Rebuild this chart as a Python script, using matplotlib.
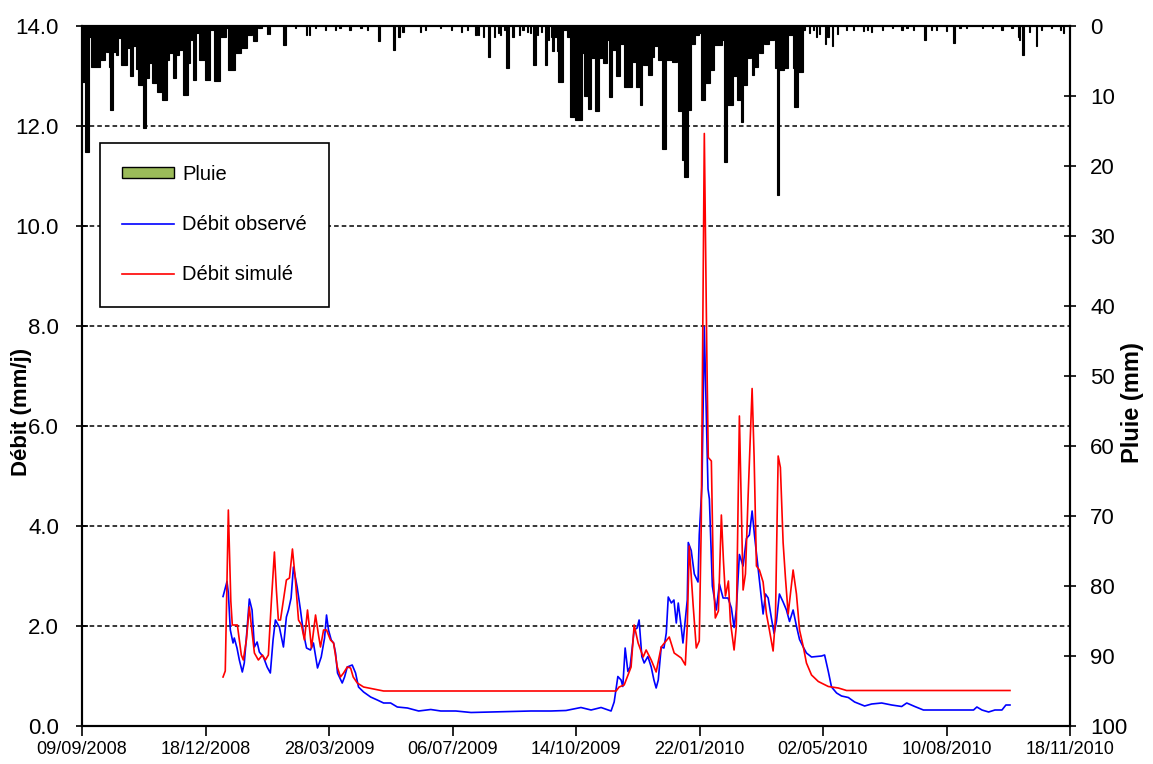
import numpy as np
import pandas as pd
import matplotlib
matplotlib.use('Agg')
import matplotlib.pyplot as plt
from matplotlib.patches import Patch
from matplotlib.lines import Line2D

plt.rcParams['font.family'] = ['Liberation Sans', 'DejaVu Sans']

# origine des jours : 09/09/2008
origine = pd.Timestamp('2008-09-09')

# pluie journaliere (mm) - hiver 2008/2009, a partir du jour 0
pluie_hiver1 = [
    8, 8, 8, 18, 18, 18, 1.5, 1.5, 5.8, 5.8,
    5.8, 5.8, 5.8, 5.8, 5.8, 4.9, 4.9, 4.9, 4.9, 0.3,
    3.7, 3.7, 5.8, 12, 12, 12, 3.7, 3.7, 4.1, 4.1,
    1.7, 1.7, 5.6, 5.6, 5.6, 5.6, 5.6, 3.2, 3.2, 7.2,
    7.2, 7.2, 2.9, 2.9, 6.1, 6.1, 8.4, 8.4, 8.4, 8.4,
    14.6, 14.6, 7.4, 7.4, 7.4, 5.3, 5.3, 8.2, 8.2, 8.2,
    8.2, 9.4, 9.4, 9.4, 9.4, 10.6, 10.6, 10.6, 10.6, 4.9,
    4.9, 3.9, 3.9, 3.9, 7.4, 7.4, 7.4, 4.1, 4.1, 3.4,
    3.4, 3.4, 9.9, 9.9, 9.9, 9.9, 5.3, 5.3, 2.0, 2.0,
    7.7, 7.7, 7.7, 1.0, 1.0, 4.9, 4.9, 4.9, 4.9, 4.9,
    7.7, 7.7, 7.7, 7.7, 0.6, 0.6, 0.6, 7.9, 7.9, 7.9,
    7.9, 7.9, 1.5, 1.5, 1.5, 1.5, 1.5, 0.3, 0.3, 6.3,
    6.3, 6.3, 6.3, 6.3, 3.9, 3.9, 3.9, 3.9, 3.9, 3.2,
    3.2, 3.2, 3.2, 3.2, 1.3, 1.3, 1.3, 1.3, 0, 2.2,
    2.2, 2.2, 0, 0.3, 0.3, 0.3]
debut_hiver1 = 0

# pluie journaliere (mm) - hiver 2009/2010, a partir du jour 385
pluie_hiver2 = [
    3.5, 8, 8, 8, 8, 0.5, 0.5, 0.5, 1.5, 1.5,
    1.5, 13, 13, 13, 13, 13.4, 13.4, 13.4, 13.4, 13.4,
    3.9, 3.9, 10, 10, 10, 11.8, 11.8, 11.8, 4.6, 4.6,
    4.6, 12.2, 12.2, 12.2, 4.6, 4.6, 4.6, 5.3, 5.3, 5.3,
    5.3, 2, 10.1, 10.1, 10.1, 3.4, 3.4, 3.4, 7.2, 7.2,
    7.2, 2.5, 2.5, 2.5, 8.7, 8.7, 8.7, 8.7, 8.7, 8.7,
    8.7, 5.1, 5.1, 5.1, 8.7, 8.7, 8.7, 11.3, 11.3, 3,
    5.6, 5.6, 5.6, 5.6, 7.0, 7.0, 7.0, 4.4, 4.4, 2.9,
    2.9, 2.9, 4.9, 4.9, 4.9, 17.5, 17.5, 17.5, 4.9, 4.9,
    4.9, 4.9, 4.9, 5.1, 5.1, 5.1, 5.1, 3, 12.2, 12.2,
    12.2, 19.1, 19.1, 21.5, 21.5, 21.5, 12, 12, 12, 2.5,
    2.5, 2.5, 1.3, 1.3, 1.3, 1, 1, 10.6, 10.6, 10.6,
    8.2, 8.2, 8.2, 8.2, 6.3, 6.3, 6.3, 2.7, 2.7, 2.7,
    2.7, 2.7, 2.7, 2.7, 2, 19.4, 19.4, 19.4, 11.3, 11.3,
    11.3, 11.3, 11.3, 7.2, 7.2, 7.2, 10.6, 10.6, 10.6, 13.7,
    13.7, 8.4, 8.4, 8.4, 4.6, 4.6, 4.6, 2, 7.0, 7.0,
    5.8, 5.8, 5.8, 2, 3.9, 3.9, 3.9, 1, 2.5, 2.5,
    2.5, 2.5, 2.0, 2.0, 2.0, 2.0, 1, 6, 24.1, 24.1,
    6.3, 6.3, 6.3, 6.3, 6, 6, 6, 1.3, 1.3, 1.3,
    1.3, 6, 11.5, 11.5, 11.5, 6.5, 6.5, 6.5, 6.5, 0.5, 0.5]
debut_hiver2 = 385

# pluies isolees (jour, mm)
pluie_isolee_jours = [150, 152, 163, 164, 165, 173, 182, 184, 189, 197, 205, 209, 217, 226, 231,
                      240, 241, 252, 253, 256, 257, 260, 274, 278, 290, 299, 307, 312, 319, 321,
                      325, 329, 330, 334, 337, 339, 342, 344, 345, 349, 354, 357, 361, 363, 366,
                      367, 369, 372, 375, 376, 378, 380, 381, 382, 383, 384,
                      589, 592, 595, 597, 602, 604, 608, 612, 619, 625, 633, 636, 639, 648, 656,
                      664, 668, 673, 682, 683, 688, 692, 700, 706, 711, 716, 729, 737, 745, 753,
                      758, 759, 762, 767, 773, 777, 785, 792, 795]
pluie_isolee_mm = [1.1, 1.1, 2.7, 2.7, 2.7, 0.3, 1.3, 1.3, 0.3, 0.5, 0.5, 0.3, 0.5, 0.3, 0.5,
                   2.2, 2.2, 3.4, 3.4, 1.5, 1.5, 0.8, 0.8, 0.5, 0.3, 0.5, 0.8, 0.5, 1.3, 1.3,
                   1.5, 4.4, 4.4, 1.5, 1.0, 1.3, 0.5, 6.0, 6.0, 1.5, 1.3, 0.5, 0.8, 1.0, 5.6,
                   5.6, 1.3, 0.8, 5.6, 5.6, 2.0, 1.5, 3.5, 3.5, 1.5, 1.5,
                   1.0, 0.5, 1.5, 1.2, 2.6, 1.5, 2.8, 1.2, 0.5, 0.5, 0.7, 0.5, 0.8, 0.5, 0.3,
                   0.5, 0.3, 0.5, 2.0, 2.0, 0.5, 0.5, 0.7, 2.4, 0.3, 0.3, 0.3, 0.3, 0.5, 0.3,
                   1.5, 2.0, 4.2, 0.8, 2.8, 0.5, 0.3, 0.5, 1.0]

# debit observe (jour, mm/j)
obs_jours = [114.2, 117.4, 118.5, 120.1, 122.3, 123.3, 125.5, 127.4, 129.8, 131.4, 133.6, 135.5,
             137.7, 139.6, 141.8, 143.6, 146.9, 149.9, 152.5, 154.7, 156.6, 159.8, 163.1, 165.5,
             167.2, 169.3, 171.2, 174.2, 176.9, 179.3, 181.8, 185.0, 187.4, 190.7, 193.7, 196.4,
             198.0, 199.6, 201.8, 203.7, 205.3, 206.9, 210.7, 212.6, 214.8, 218.8, 221.5, 223.9,
             228.0, 233.7, 239.1, 244.2, 249.9, 255.3, 263.5, 272.6, 282.4, 290.5, 302.7, 315.0,
             331.0, 347.0, 363.5, 379.7, 391.9, 404.0, 412.2, 420.3, 428.4, 430.9, 433.9, 436.5,
             437.9, 439.8, 442.0, 443.8, 447.1, 449.5, 451.1, 453.3, 455.2, 458.2, 460.9, 463.1,
             464.9, 466.6, 469.0, 471.2, 473.1, 474.7, 477.2, 479.3, 481.2, 482.8, 485.2, 486.6,
             488.5, 490.1, 490.9, 493.3, 495.8, 498.8, 499.8, 502.0, 503.9, 506.9, 508.0, 510.4,
             513.6, 516.1, 519.1, 523.1, 525.8, 528.0, 529.8, 532.3, 535.3, 538.0, 540.4, 542.6,
             544.5, 546.9, 550.1, 551.5, 553.4, 555.6, 558.2, 560.4, 562.3, 564.7, 567.7, 570.4,
             572.9, 575.8, 578.5, 581.0, 584.0, 586.6, 590.7, 598.8, 601.3, 604.3, 606.9, 611.0,
             615.0, 620.5, 625.6, 633.7, 639.4, 647.5, 655.6, 663.7, 667.8, 674.3, 681.3, 701.6,
             721.9, 724.6, 728.7, 734.1, 739.2, 744.9, 748.1, 751.4]
obs_debit = [2.59, 2.89, 2.66, 1.92, 1.66, 1.76, 1.56, 1.32, 1.08, 1.26, 1.92, 2.54,
             2.32, 1.58, 1.68, 1.48, 1.38, 1.18, 1.06, 1.72, 2.12, 1.98, 1.58, 2.18,
             2.32, 2.56, 3.18, 2.78, 2.32, 1.86, 1.56, 1.52, 1.66, 1.16, 1.38, 1.76,
             2.22, 1.92, 1.72, 1.66, 1.46, 1.06, 0.86, 0.98, 1.18, 1.22, 1.06, 0.78,
             0.68, 0.58, 0.52, 0.46, 0.46, 0.38, 0.36, 0.30, 0.33, 0.30, 0.30, 0.27,
             0.28, 0.29, 0.30, 0.30, 0.31, 0.37, 0.32, 0.37, 0.30, 0.48, 0.99, 0.92,
             0.79, 1.56, 1.09, 1.18, 1.92, 1.96, 2.12, 1.39, 1.26, 1.39, 1.18, 0.92,
             0.76, 0.92, 1.58, 1.56, 1.86, 2.58, 2.46, 2.52, 2.06, 2.46, 1.98, 1.66,
             2.12, 2.52, 3.67, 3.51, 3.04, 2.88, 3.82, 4.82, 7.98, 4.74, 4.54, 2.80,
             2.32, 2.84, 2.56, 2.56, 2.36, 1.97, 2.32, 3.43, 3.20, 3.75, 3.82, 4.30,
             3.82, 3.28, 2.56, 2.24, 2.64, 2.56, 2.16, 1.85, 2.09, 2.64, 2.48, 2.32,
             2.09, 2.32, 2.00, 1.73, 1.58, 1.46, 1.38, 1.40, 1.42, 1.09, 0.78, 0.66,
             0.60, 0.57, 0.48, 0.40, 0.44, 0.46, 0.42, 0.39, 0.46, 0.39, 0.32, 0.32,
             0.32, 0.38, 0.32, 0.28, 0.32, 0.32, 0.42, 0.42]

# debit simule (jour, mm/j)
sim_jours = [114.2, 116.0, 118.5, 120.5, 121.7, 125.8, 127.4, 129.0, 130.6, 133.1, 135.5, 137.5,
             139.6, 142.8, 146.1, 148.5, 150.9, 153.4, 155.8, 157.4, 159.0, 160.7, 163.1, 165.5,
             168.0, 170.4, 172.8, 175.3, 177.7, 180.1, 182.6, 184.2, 185.8, 189.1, 191.5, 193.1,
             195.6, 198.0, 201.2, 203.7, 206.7, 209.3, 211.8, 214.8, 217.5, 219.6, 222.9, 228.0,
             236.1, 244.2, 432.5, 434.9, 439.0, 444.6, 447.1, 450.3, 454.4, 456.8, 460.9, 464.9,
             469.0, 475.5, 479.5, 485.2, 488.5, 490.1, 491.7, 493.3, 494.9, 497.4, 499.8, 501.4,
             503.9, 505.9, 507.1, 509.6, 511.2, 512.8, 515.3, 517.7, 519.4, 521.0, 523.4, 525.0,
             528.0, 529.8, 532.3, 535.3, 537.2, 539.4, 542.6, 544.2, 546.1, 548.5, 551.5, 554.2,
             556.6, 559.6, 561.5, 563.7, 565.5, 567.7, 569.6, 571.8, 575.8, 578.5, 581.0, 584.0,
             586.6, 590.7, 596.2, 604.3, 612.4, 619.1, 751.4]
sim_debit = [0.98, 1.10, 4.32, 2.50, 2.02, 2.02, 1.72, 1.42, 1.32, 1.72, 2.38, 1.92,
             1.46, 1.32, 1.42, 1.32, 1.42, 2.52, 3.48, 2.72, 2.12, 2.12, 2.52, 2.92,
             2.96, 3.54, 2.92, 2.12, 2.02, 1.72, 2.32, 1.96, 1.56, 2.22, 1.82, 1.58,
             1.92, 1.92, 1.72, 1.66, 1.18, 0.98, 1.06, 1.18, 1.16, 0.98, 0.86, 0.78,
             0.74, 0.70, 0.70, 0.78, 0.82, 1.18, 2.02, 1.66, 1.38, 1.52, 1.32, 1.08,
             1.58, 1.78, 1.46, 1.36, 1.22, 2.00, 3.60, 3.00, 2.40, 1.56, 1.70, 4.00,
             11.85, 7.50, 5.37, 5.30, 3.00, 2.16, 2.30, 4.22, 3.30, 2.60, 2.90, 2.09,
             1.52, 1.99, 6.20, 2.72, 3.04, 4.62, 6.75, 5.40, 3.20, 3.12, 2.88, 2.24,
             1.92, 1.50, 2.16, 5.40, 5.17, 3.67, 2.96, 2.24, 3.12, 2.64, 1.92, 1.59,
             1.26, 1.02, 0.89, 0.79, 0.76, 0.71, 0.71]

graduations_dates = ['09/09/2008', '18/12/2008', '28/03/2009', '06/07/2009', '14/10/2009',
                     '22/01/2010', '02/05/2010', '10/08/2010', '18/11/2010']


def en_dates(jours):
    return origine + pd.to_timedelta(np.asarray(jours, dtype=float), unit='D')


# construction des series de pluie
jours_pluie = list(range(debut_hiver1, debut_hiver1 + len(pluie_hiver1))) \
    + list(range(debut_hiver2, debut_hiver2 + len(pluie_hiver2))) + pluie_isolee_jours
mm_pluie = pluie_hiver1 + pluie_hiver2 + pluie_isolee_mm

fig = plt.figure(figsize=(11.53, 7.64), dpi=100)
ax1 = fig.add_axes([82 / 1153, 38 / 764, 988 / 1153, 700 / 764])
ax2 = ax1.twinx()

# debits
ax1.plot(en_dates(obs_jours), obs_debit, color='#0000ff', lw=1.2, zorder=3)
ax1.plot(en_dates(sim_jours), sim_debit, color='#ff0000', lw=1.2, zorder=4)

# pluie (axe inverse)
ax2.bar(en_dates(jours_pluie), mm_pluie, width=1.0, color='black', linewidth=0.8,
        edgecolor='black', align='center')

ax1.set_ylim(0, 14)
ax2.set_ylim(100, 0)
xdates = pd.to_datetime(graduations_dates, format='%d/%m/%Y')
ax1.set_xlim(xdates[0], xdates[-1])
ax1.set_xticks(xdates)
ax1.set_xticklabels(graduations_dates, fontsize=13)
ax1.set_yticks(np.arange(0, 14.1, 2))
ax1.set_yticklabels(['%.1f' % v for v in np.arange(0, 14.1, 2)], fontsize=16)
ax2.set_yticks(np.arange(0, 101, 10))
ax2.set_yticklabels([str(v) for v in range(0, 101, 10)], fontsize=16)

ax1.tick_params(axis='x', direction='out', length=7, width=1.2, pad=4)
ax1.tick_params(axis='y', direction='inout', length=9, width=1.2, pad=12)
ax2.tick_params(axis='y', direction='inout', length=9, width=1.2, pad=10)

for v in np.arange(2, 13, 2):
    ax1.axhline(v, color='black', lw=1.1, ls=(0, (3, 2)), zorder=1)

for ax in (ax1, ax2):
    for s in ax.spines.values():
        s.set_linewidth(1.5)
        s.set_color('black')

# le titre de gauche chevauche les graduations, comme dans l'original
fig.text(22 / 1153, 1 - 412 / 764, 'Débit (mm/j)', rotation=90, ha='center', va='center',
         fontsize=16, fontweight='bold')
fig.text(1133 / 1153, 1 - 403 / 764, 'Pluie (mm)', rotation=90, ha='center', va='center',
         fontsize=17, fontweight='bold')

handles = [Patch(facecolor='#9bbb59', edgecolor='black', lw=1.0),
           Line2D([], [], color='#0000ff', lw=1.2),
           Line2D([], [], color='#ff0000', lw=1.2)]
leg = ax2.legend(handles, ['Pluie', 'Débit observé', 'Débit simulé'], loc='upper left',
                 bbox_to_anchor=(0.018, 0.833), borderaxespad=0, fontsize=14.5,
                 frameon=True, fancybox=False, framealpha=1, edgecolor='black',
                 handlelength=2.6, handleheight=0.45, handletextpad=0.4,
                 labelspacing=1.55, borderpad=1.1)
leg.get_frame().set_linewidth(1.2)

fig.savefig('out.png', dpi=100)
